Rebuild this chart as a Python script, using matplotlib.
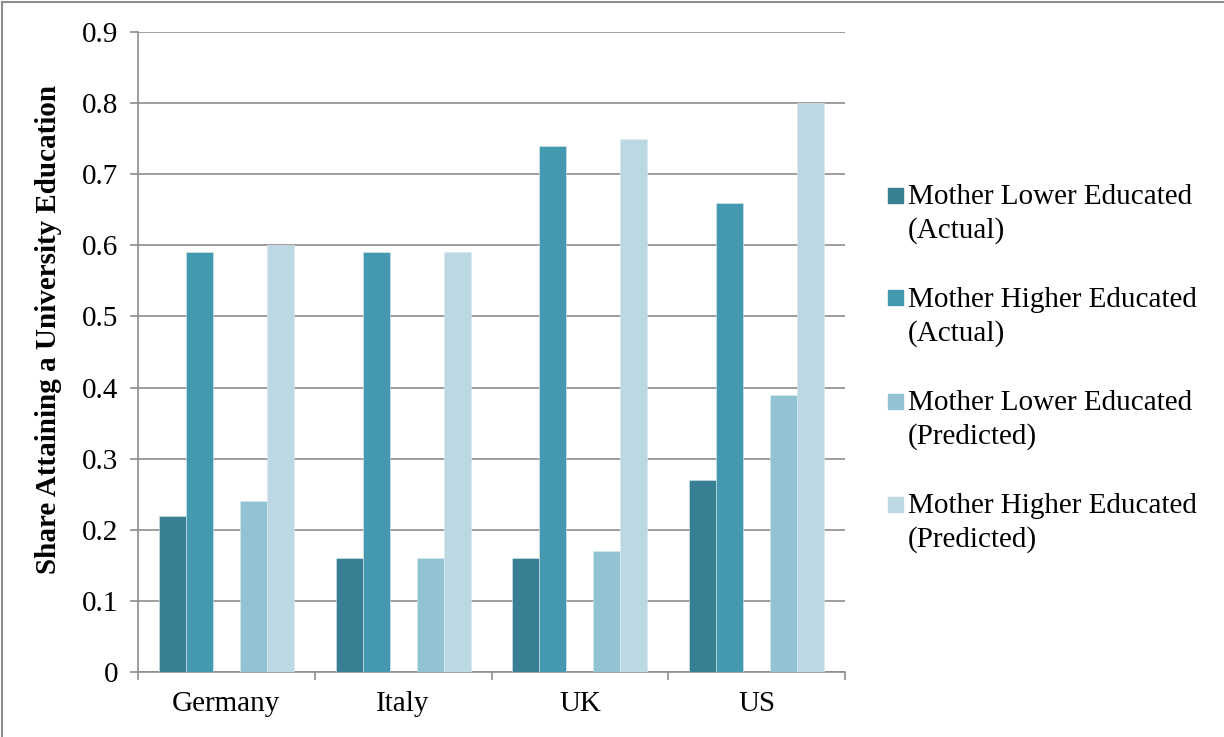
import matplotlib
matplotlib.use('Agg')
import matplotlib.pyplot as plt
import numpy as np
from matplotlib.patches import Rectangle
from matplotlib.lines import Line2D

plt.rcParams['font.family'] = ['Liberation Serif', 'DejaVu Serif']

countries = ['Germany', 'Italy', 'UK', 'US']
series_names = ['Mother Lower Educated\n(Actual)',
                'Mother Higher Educated\n(Actual)',
                'Mother Lower Educated\n(Predicted)',
                'Mother Higher Educated\n(Predicted)']
lower_actual = [0.22, 0.16, 0.16, 0.27]
higher_actual = [0.59, 0.59, 0.74, 0.66]
lower_predicted = [0.24, 0.16, 0.17, 0.39]
higher_predicted = [0.60, 0.59, 0.75, 0.80]

COLORS = ['#377f93', '#4499b0', '#92c3d5', '#bcd9e3']
GRID = '#8c8c8c'

fig = plt.figure(figsize=(12.24, 7.37), dpi=100)
ax = fig.add_axes([138 / 1224, 65 / 737, 707 / 1224, 640 / 737])

x = np.arange(len(countries))
w = 0.1525
# five slots per group, middle one left empty
offsets = [-2 * w, -w, w, 2 * w]
values = [lower_actual, higher_actual, lower_predicted, higher_predicted]
for vals, off, col in zip(values, offsets, COLORS):
    ax.bar(x + off, vals, width=w, color=col, edgecolor='#d8e8ee',
           linewidth=0.4, zorder=3)

ax.set_xlim(-0.5, len(countries) - 0.5)
ax.set_ylim(0, 0.9)
ax.set_yticks(np.arange(0, 0.91, 0.1))
ax.set_yticklabels(['0'] + ['%.1f' % v for v in np.arange(0.1, 0.91, 0.1)])
ax.set_xticks(x)
ax.set_xticklabels(countries)
ax.set_xticks(np.arange(-0.5, len(countries)), minor=True)

ax.tick_params(axis='x', which='major', length=0, labelsize=21, pad=14)
ax.tick_params(axis='x', which='minor', length=6, color=GRID, width=1.2)
ax.tick_params(axis='y', length=6, color=GRID, width=1.2, labelsize=21, pad=8)

ax.yaxis.grid(True, color=GRID, linewidth=1.2, zorder=0)
ax.set_axisbelow(True)
for side in ['top', 'right']:
    ax.spines[side].set_visible(False)
for side in ['left', 'bottom']:
    ax.spines[side].set_color(GRID)
    ax.spines[side].set_linewidth(1.2)

ax.set_ylabel('Share Attaining a University Education', fontsize=21,
              fontweight='bold')
ax.yaxis.set_label_coords(-0.107, 0.536)

# legend drawn by hand: square swatch next to the first line of each label
for i, (name, col) in enumerate(zip(series_names, COLORS)):
    y_mid = 1 - (195 + 103 * i) / 737
    fig.patches.append(Rectangle((888 / 1224, y_mid - 7.5 / 737), 15 / 1224, 15 / 737,
                                 transform=fig.transFigure, color=col))
    fig.text(908 / 1224, y_mid + 11 / 737, name, fontsize=21, va='top',
             ha='left', linespacing=1.32)

# outer chart border
fig.add_artist(Line2D([2 / 1224, 2 / 1224], [0, 1 - 2 / 737], transform=fig.transFigure,
                      color='#8c8c8c', linewidth=1.5))
fig.add_artist(Line2D([2 / 1224, 1], [1 - 2 / 737, 1 - 2 / 737], transform=fig.transFigure,
                      color='#8c8c8c', linewidth=1.5))

fig.savefig('out.png', dpi=100)
